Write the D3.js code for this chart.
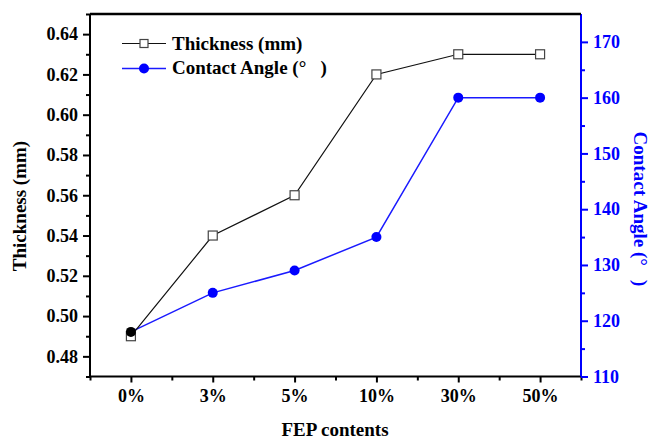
<!DOCTYPE html>
<html><head><meta charset="utf-8">
<script src="https://cdn.jsdelivr.net/npm/d3@7"></script>
<style>body{margin:0;background:#fff}svg{display:block}</style>
</head><body><svg id="c" width="651" height="439"></svg>
<script>
const categories = ["0%","3%","5%","10%","30%","50%"];
const thickness = [0.49,0.54,0.56,0.62,0.63,0.63];
const contactAngle = [118,125,129,135,160,160];
const leftTicks = [0.48,0.50,0.52,0.54,0.56,0.58,0.60,0.62,0.64];
const rightTicks = [110,120,130,140,150,160,170];

const FONT = "'Liberation Serif', 'Times New Roman', Times, serif";
const svg = d3.select("#c");
const L=90,R=581,T=14,B=376.5;
const x = d3.scaleLinear().domain([-0.5,5.5]).range([L,R]);
const yL = d3.scaleLinear().domain([0.47,0.65]).range([B,T]);
const yR = d3.scaleLinear().domain([110,175]).range([B,T]);

const bx = svg.append("g").attr("transform",`translate(0,${B})`)
  .call(d3.axisBottom(x).tickValues(d3.range(categories.length)).tickFormat(i=>categories[i]).tickSize(6).tickPadding(7));
const bxm = svg.append("g").attr("transform",`translate(0,${B})`)
  .call(d3.axisBottom(x).tickValues(d3.range(-0.5,6,1)).tickFormat("").tickSize(4));
const ly = svg.append("g").attr("transform",`translate(${L},0)`)
  .call(d3.axisLeft(yL).tickValues(leftTicks).tickFormat(d3.format(".2f")).tickSize(7).tickPadding(5));
const lym = svg.append("g").attr("transform",`translate(${L},0)`)
  .call(d3.axisLeft(yL).tickValues(d3.range(0.47,0.655,0.02)).tickFormat("").tickSize(4));
const ry = svg.append("g").attr("transform",`translate(${R},0)`)
  .call(d3.axisRight(yR).tickValues(rightTicks).tickSize(7).tickPadding(5));
const rym = svg.append("g").attr("transform",`translate(${R},0)`)
  .call(d3.axisRight(yR).tickValues(d3.range(115,175,10)).tickFormat("").tickSize(4));

[bx,bxm,ly,lym].forEach(g=>{g.attr("font-family",null);g.selectAll("path").attr("stroke","#000").attr("stroke-width",2);g.selectAll("line").attr("stroke","#000").attr("stroke-width",2);g.selectAll("text").attr("fill","#000");});
[ry,rym].forEach(g=>{g.attr("font-family",null);g.selectAll("path").attr("stroke","#0000ff").attr("stroke-width",2);g.selectAll("line").attr("stroke","#0000ff").attr("stroke-width",2);g.selectAll("text").attr("fill","#0000ff");});
[bxm,lym,rym].forEach(g=>g.select("path").remove());
bx.select("path").attr("d",`M${L},0H${R}`);
ly.select("path").attr("d",`M0,${B}V${T}`);
ry.select("path").attr("d",`M0,${B}V${T}`);
svg.append("line").attr("x1",L).attr("x2",R).attr("y1",T).attr("y2",T).attr("stroke","#000").attr("stroke-width",2.5);

const lineT = d3.line().x((d,i)=>x(i)).y(d=>yL(d));
const lineC = d3.line().x((d,i)=>x(i)).y(d=>yR(d));
svg.append("path").attr("d",lineC(contactAngle)).attr("fill","none").attr("stroke","#1a1aff").attr("stroke-width",1.5);
svg.append("path").attr("d",lineT(thickness)).attr("fill","none").attr("stroke","#111").attr("stroke-width",1.2);
svg.selectAll(".sq").data(thickness).enter().append("rect")
  .attr("x",(d,i)=>x(i)-4.5).attr("y",d=>yL(d)-4.5).attr("width",9).attr("height",9)
  .attr("fill","#fff").attr("stroke","#444").attr("stroke-width",1.2);
svg.selectAll(".ci").data(contactAngle).enter().append("circle")
  .attr("cx",(d,i)=>x(i)).attr("cy",d=>yR(d)).attr("r",5)
  .attr("fill",(d,i)=>i===0?"#000":"#0000ff");

const lg = svg.append("g");
lg.append("line").attr("x1",122).attr("x2",166).attr("y1",43.5).attr("y2",43.5).attr("stroke","#111").attr("stroke-width",1.2);
lg.append("rect").attr("x",140).attr("y",39.5).attr("width",8).attr("height",8).attr("fill","#fff").attr("stroke","#444").attr("stroke-width",1.2);
lg.append("text").attr("class","big").attr("x",172).attr("y",50).attr("fill","#000").text("Thickness (mm)");
lg.append("line").attr("x1",122).attr("x2",166).attr("y1",68.5).attr("y2",68.5).attr("stroke","#1a1aff").attr("stroke-width",1.5);
lg.append("circle").attr("cx",144).attr("cy",68.5).attr("r",5).attr("fill","#0000ff");
lg.append("text").attr("class","big").attr("x",172).attr("y",74).attr("fill","#000").text("Contact Angle (°\u00a0\u00a0\u00a0)");

svg.append("text").attr("class","big").attr("transform","translate(26,206) rotate(-90)").attr("text-anchor","middle").attr("fill","#000").text("Thickness (mm)");
svg.append("text").attr("class","big").attr("transform","translate(634,209) rotate(90)").attr("text-anchor","middle").attr("fill","#0000ff").text("Contact Angle (°\u00a0\u00a0\u00a0)");
svg.append("text").attr("class","big").attr("x",335).attr("y",436).attr("text-anchor","middle").attr("fill","#000").text("FEP contents");

svg.selectAll("text").style("font-family",FONT).style("font-weight","bold").style("font-size","18px");
svg.selectAll("text.big").style("font-size","19px");
</script></body></html>
